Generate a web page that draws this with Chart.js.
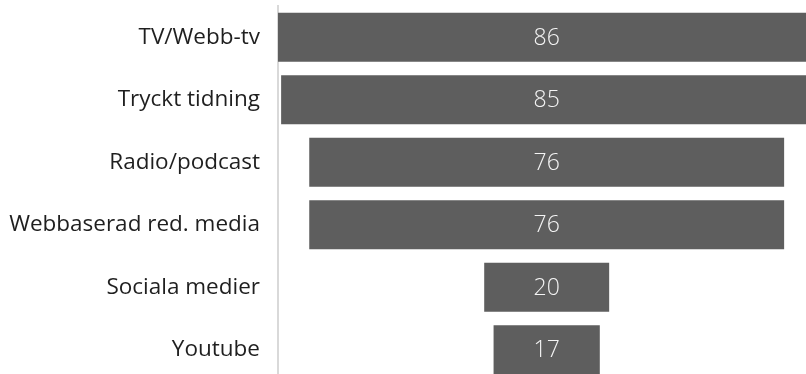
<!DOCTYPE html>
<html lang="sv">
<head>
<meta charset="UTF-8">
<title>Funnel</title>
<script src="https://cdn.jsdelivr.net/npm/chart.js"></script>
<style>
  html, body { margin: 0; padding: 0; background: #fff; overflow: hidden; }
  canvas { display: block; }
</style>
</head>
<body>
<canvas id="funnel" width="806" height="381"></canvas>
<script>
  // categories and values
  const categories = ['TV/Webb-tv', 'Tryckt tidning', 'Radio/podcast', 'Webbaserad red. media', 'Sociala medier', 'Youtube'];
  const values = [86, 85, 76, 76, 20, 17];

  // centred bars: each bar spans [-v/2, v/2]
  const spans = values.map(v => [-v / 2, v / 2]);

  // draws the value in the middle of each bar
  const valueLabels = {
    id: 'valueLabels',
    afterDatasetsDraw(chart) {
      const ctx = chart.ctx;
      const meta = chart.getDatasetMeta(0);
      ctx.save();
      ctx.fillStyle = '#f4f4f4';
      ctx.font = '300 23px "Open Sans", sans-serif';
      ctx.textAlign = 'center';
      ctx.textBaseline = 'middle';
      meta.data.forEach((bar, i) => {
        ctx.fillText(values[i], (bar.base + bar.x) / 2, bar.y + 1);
      });
      ctx.restore();
    }
  };

  new Chart(document.getElementById('funnel'), {
    type: 'bar',
    data: {
      labels: categories,
      datasets: [{
        data: spans,
        backgroundColor: '#5e5e5e',
        borderWidth: 0,
        borderSkipped: false,
        categoryPercentage: 1,
        barPercentage: 0.785
      }]
    },
    options: {
      indexAxis: 'y',
      responsive: false,
      animation: false,
      layout: { padding: { top: 6, left: 0, right: 0, bottom: 0 } },
      plugins: { legend: { display: false }, tooltip: { enabled: false } },
      scales: {
        x: {
          display: false,
          min: -43,
          max: 41.5
        },
        y: {
          grid: { display: false, drawTicks: false },
          border: { display: true, color: '#d9d9d9', width: 2 },
          ticks: {
            color: '#1f1f1f',
            padding: 18,
            font: { family: '"Open Sans", sans-serif', size: 22.5 }
          },
          afterFit(scale) {
            scale.width = 278;
            scale.paddingTop = 0;
            scale.paddingBottom = 0;
          }
        }
      }
    },
    plugins: [valueLabels]
  });
</script>
</body>
</html>
